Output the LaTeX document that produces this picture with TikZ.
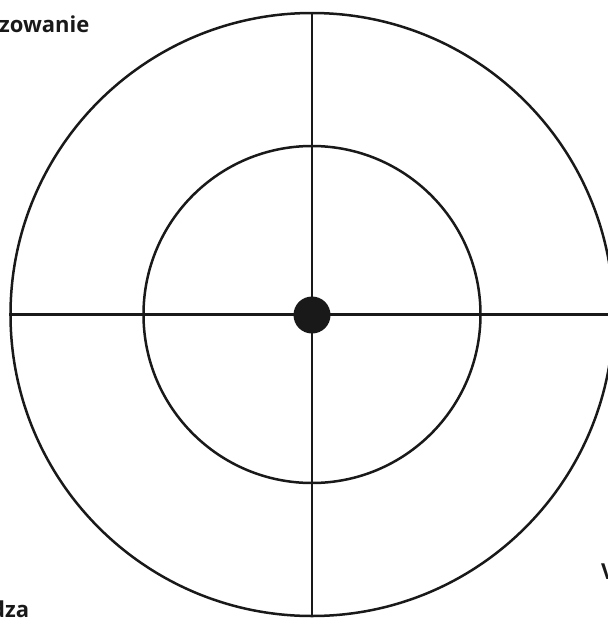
\documentclass[tikz,border=0pt]{standalone}
\usepackage{fontspec}
\setmainfont{Open Sans}
\begin{document}
\begin{tikzpicture}[x=1pt,y=-1pt,
  ring/.style={circle,draw=black!90,line width=2.5pt,inner sep=0pt},
  axis/.style={draw=black!90,line width=2.7pt},
  lbl/.style={font=\fontsize{22}{24}\selectfont\bfseries,text=black!90,inner sep=0pt}]
\useasboundingbox (0,0) rectangle (608,619);
\clip (0,0) rectangle (608,619);
\node[ring,minimum size=603pt] (outer) at (312,314.5) {};
\node[ring,minimum size=337pt] (inner) at (312,314.5) {};
\draw[axis] (outer.west) -- (outer.east);
\draw[axis] (outer.north) -- (outer.south);
\node[circle,fill=black!90,minimum size=37pt,inner sep=0pt] (dot) at (312,315) {};
\node[lbl,anchor=base west] (t1) at (-1,32) {zowanie};
\node[lbl,anchor=base west] (t2) at (-9,617) {dza};
\node[lbl,anchor=base west] (t3) at (601,579) {V};
\end{tikzpicture}
\end{document}
